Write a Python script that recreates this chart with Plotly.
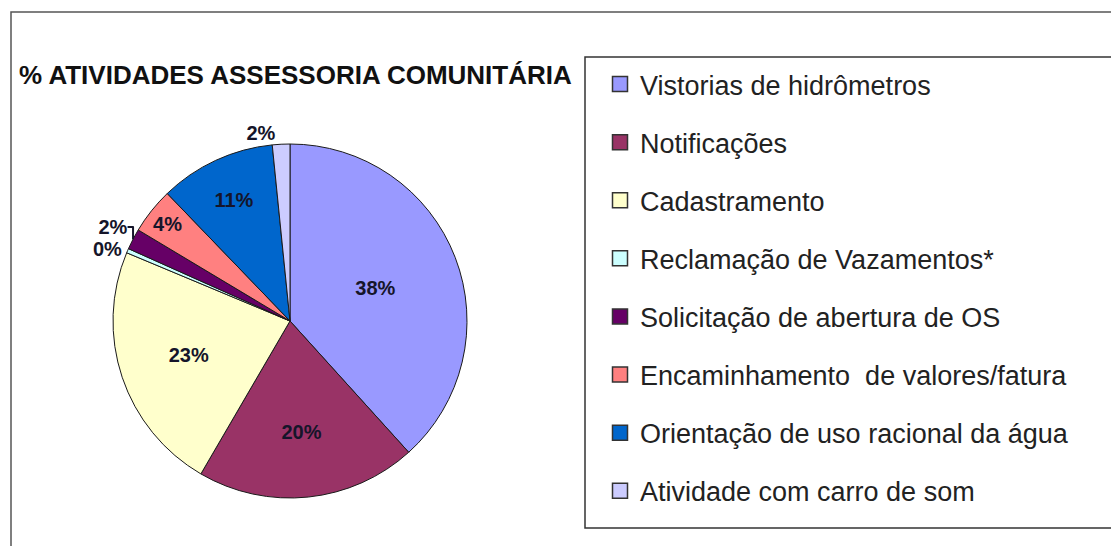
# Importing Modules
import plotly.graph_objects as go

# Chart Data
labels = [
    "Vistorias de hidrômetros",
    "Notificações",
    "Cadastramento",
    "Reclamação de Vazamentos*",
    "Solicitação de abertura de OS",
    "Encaminhamento  de valores/fatura",
    "Orientação de uso racional da água",
    "Atividade com carro de som",
]
values = [38.3, 20.1, 22.9, 0.4, 1.9, 4.2, 10.6, 1.6]
colors = ["#9999FF", "#993366", "#FFFFCC", "#CCFFFF", "#660066", "#FF8080", "#0066CC", "#CCCCFF"]
text_positions = ["inside", "inside", "inside", "outside", "outside", "inside", "inside", "outside"]
title_text = "% ATIVIDADES ASSESSORIA COMUNITÁRIA"

# the page body has an 8px margin, so the figure is drawn 8px in from the window corner
OFF = 8
W, H = 1119 - OFF, 546 - OFF
FONT = "Liberation Sans, Arial, sans-serif"


def px(x):
    return (x - OFF) / W


def py(y):
    return 1 - (y - OFF) / H


fig = go.Figure()

# Pie (radius 177 px, centre at 290, 321 in the window)
fig.add_trace(go.Pie(
    labels=labels,
    values=values,
    sort=False,
    direction="clockwise",
    rotation=0,
    marker=dict(colors=colors, line=dict(color="#1a1a1a", width=1)),
    texttemplate="%{percent:.0%}",
    textposition=text_positions,
    insidetextorientation="horizontal",
    textfont=dict(family=FONT, size=20, color="#15152a", weight="bold"),
    domain=dict(x=[px(113), px(467)], y=[py(498), py(144)]),
    showlegend=False,
    hoverinfo="label+percent",
))

# Legend entries (one per slice, so the gap between them can be set)
for name, color in zip(labels, colors):
    fig.add_trace(go.Scatter(
        x=[None], y=[None],
        mode="markers",
        name=name,
        legendgroup=name,
        marker=dict(symbol="square", size=15, color=color, line=dict(color="#333333", width=1.5)),
    ))

# Updating Layout
fig.update_layout(
    width=W,
    height=H,
    margin=dict(l=0, r=0, t=0, b=0),
    paper_bgcolor="white",
    plot_bgcolor="white",
    font=dict(family=FONT, color="#222222"),
    title=dict(
        text=title_text,
        x=px(19), xanchor="left", xref="paper",
        y=py(75), yanchor="middle", yref="container",
        font=dict(family=FONT, size=26, color="#111111", weight="bold"),
    ),
    xaxis=dict(visible=False),
    yaxis=dict(visible=False),
    legend=dict(
        x=px(600), xanchor="left",
        y=py(60), yanchor="top",
        font=dict(family=FONT, size=27, color="#222222"),
        traceorder="grouped",
        tracegroupgap=20,
        bgcolor="rgba(0,0,0,0)",
        borderwidth=0,
    ),
    shapes=[
        # outer chart frame
        dict(type="rect", xref="paper", yref="paper",
             x0=px(11), x1=1.02, y0=-0.03, y1=py(12),
             line=dict(color="#555555", width=1.5)),
        # legend frame
        dict(type="rect", xref="paper", yref="paper",
             x0=px(585), x1=px(1113), y0=py(528), y1=py(57),
             line=dict(color="#333333", width=1.5)),
    ],
)

fig.write_html("out.html")
